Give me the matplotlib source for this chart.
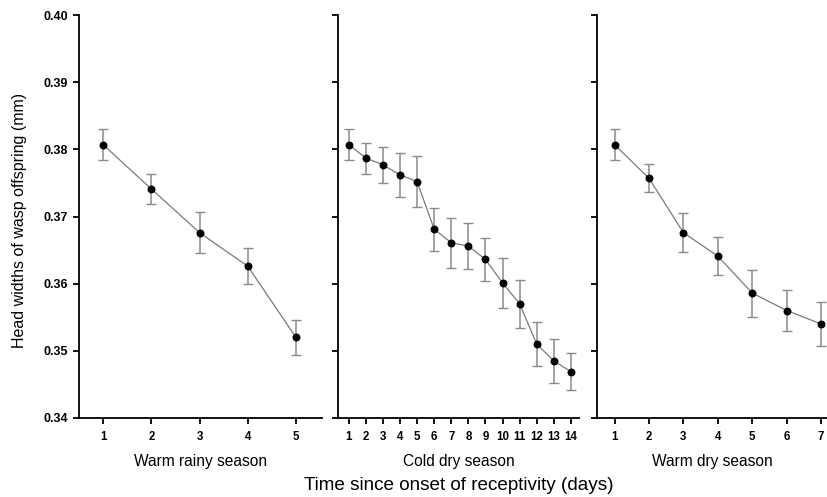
import matplotlib
matplotlib.use("Agg")
import matplotlib.pyplot as plt

plt.rcParams['font.family'] = ['Liberation Sans', 'DejaVu Sans']

# Data
seasons = ["Warm rainy season", "Cold dry season", "Warm dry season"]

rainy_days = [1, 2, 3, 4, 5]
rainy_mean = [0.3807, 0.3741, 0.3676, 0.3626, 0.3520]
rainy_err = [0.0023, 0.0022, 0.0030, 0.0027, 0.0026]

cold_days = [1, 2, 3, 4, 5, 6, 7, 8, 9, 10, 11, 12, 13, 14]
cold_mean = [0.3807, 0.3787, 0.3777, 0.3762, 0.3752, 0.3681, 0.3661, 0.3656,
             0.3636, 0.3601, 0.3570, 0.3510, 0.3485, 0.3469]
cold_err = [0.0023, 0.0023, 0.0027, 0.0033, 0.0038, 0.0032, 0.0037, 0.0034,
            0.0032, 0.0037, 0.0036, 0.0033, 0.0033, 0.0028]

warm_days = [1, 2, 3, 4, 5, 6, 7]
warm_mean = [0.3807, 0.3757, 0.3676, 0.3641, 0.3586, 0.3560, 0.3540]
warm_err = [0.0023, 0.0021, 0.0029, 0.0028, 0.0035, 0.0030, 0.0033]

y_ticks = [0.34, 0.35, 0.36, 0.37, 0.38, 0.39, 0.40]
y_label = "Head widths of wasp offspring (mm)"
x_label = "Time since onset of receptivity (days)"

W, H = 827, 497
fig = plt.figure(figsize=(W / 100, H / 100), dpi=100)

bottom = 1 - 418 / H
height = (418 - 15) / H
panels = [
    (79, 322, (0.5, 5.54), rainy_days, rainy_mean, rainy_err),
    (338.3, 579.3, (0.39, 14.49), cold_days, cold_mean, cold_err),
    (597.3, 827, (0.5, 7.17), warm_days, warm_mean, warm_err),
]

axes = []
for i, (x0, x1, xlim, d, m, e) in enumerate(panels):
    ax = fig.add_axes([x0 / W, bottom, (x1 - x0) / W, height])
    ax.errorbar(d, m, yerr=e, fmt='none', ecolor='#8a8a8a', elinewidth=1.1,
                capsize=3.5, capthick=1.0, zorder=2)
    ax.plot(d, m, color='#7a7a7a', lw=0.9, zorder=3)
    ax.plot(d, m, 'o', color='black', ms=4.7, zorder=4)
    ax.set_xlim(*xlim)
    ax.set_ylim(0.34, 0.40)
    ax.set_xticks(d)
    ax.set_yticks(y_ticks)
    for s in ['top', 'right']:
        ax.spines[s].set_visible(False)
    for s in ['left', 'bottom']:
        ax.spines[s].set_linewidth(1.3)
        ax.spines[s].set_color('black')
    ax.tick_params(direction='out', length=4.5, width=1.3)
    ax.tick_params(axis='x', labelsize=8.3, pad=4.5)
    ax.tick_params(axis='y', labelsize=9, pad=3.5)
    for lbl in ax.get_xticklabels():
        lbl.set_fontweight('bold')
    if i == 0:
        ax.set_yticklabels([f"{v:.2f}" for v in y_ticks], fontweight='bold')
    else:
        ax.set_yticklabels([])
    ax.set_xlabel(seasons[i], fontsize=11.2, labelpad=8)
    axes.append(ax)

fig.text(20 / W, 1 - 220 / H, y_label, rotation=90, ha='center', va='center',
         fontsize=11.5)
mid = axes[1].get_position()
fig.text((mid.x0 + mid.x1) / 2, 1 - 485 / H, x_label, ha='center', va='center',
         fontsize=13.6)

fig.savefig("out.png", dpi=100)
